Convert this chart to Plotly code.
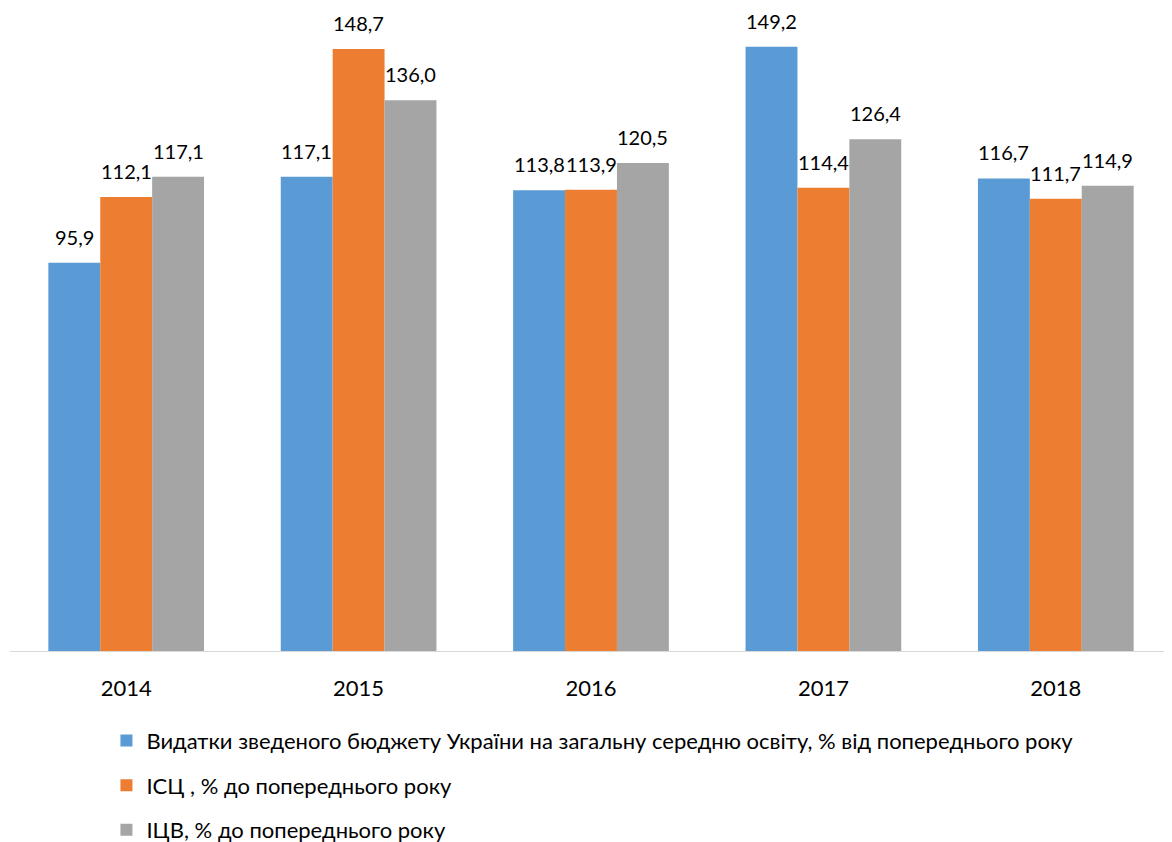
import plotly.graph_objects as go

years = ["2014", "2015", "2016", "2017", "2018"]
budget = [95.9, 117.1, 113.8, 149.2, 116.7]
isc = [112.1, 148.7, 113.9, 114.4, 111.7]
icv = [117.1, 136.0, 120.5, 126.4, 114.9]

names = [
    "Видатки зведеного бюджету України на загальну середню освіту, % від попереднього року",
    "ІСЦ , % до попереднього року",
    "ІЦВ, % до попереднього року",
]
colors = ["#5B9BD5", "#ED7D31", "#A5A5A5"]
series = [budget, isc, icv]

FONT = "Lato, 'Open Sans', sans-serif"
W, H = 1164, 834
BARGAP = 0.33
bw = (1 - BARGAP) / len(series)  # bar width in category units

fig = go.Figure()
for i, (nm, vals, col) in enumerate(zip(names, series, colors)):
    fig.add_trace(go.Bar(
        x=years, y=vals, name=nm, marker=dict(color=col, line=dict(width=0)),
        legendgroup=f"g{i}",
    ))
    for j, v in enumerate(vals):
        fig.add_annotation(
            x=j + (i - 1) * bw, y=v, xref="x", yref="y",
            text=f"{v:.1f}".replace(".", ","),
            showarrow=False, yanchor="bottom", xanchor="center", yshift=12,
            font=dict(size=20, color="#000000", family=FONT),
        )

fig.update_layout(
    width=W, height=H,
    margin=dict(l=2, r=0, t=0, b=191, autoexpand=False),
    paper_bgcolor="white", plot_bgcolor="white",
    barmode="group", bargap=BARGAP, bargroupgap=0,
    font=dict(family=FONT, color="#000000"),
    showlegend=True,
    legend=dict(
        orientation="v", x=0.083, y=-0.107,
        xanchor="left", yanchor="top",
        font=dict(size=22, color="#000000", family=FONT),
        tracegroupgap=13, traceorder="grouped",
        bgcolor="rgba(0,0,0,0)",
    ),
    xaxis=dict(
        type="category", range=[-0.5, len(years) - 0.5],
        showline=True, linecolor="#D9D9D9", linewidth=1,
        ticks="", tickfont=dict(size=22, color="#000000", family=FONT),
        ticklabelstandoff=18, showgrid=False,
    ),
    yaxis=dict(range=[0, 158.8], visible=False, showgrid=False),
)

fig.write_html("out.html")
